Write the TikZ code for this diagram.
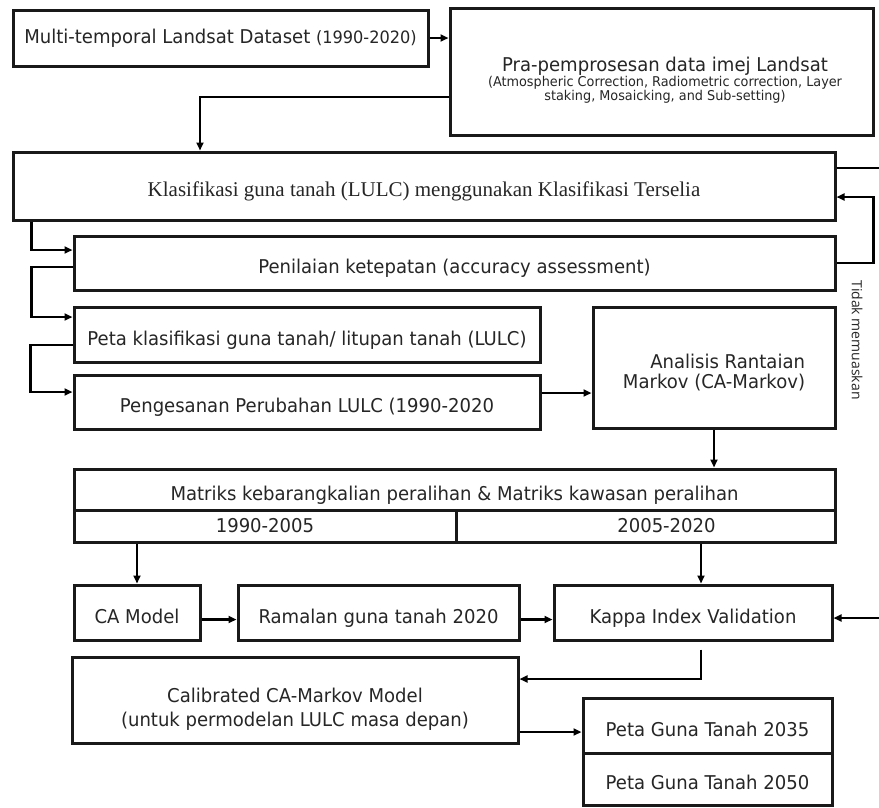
\documentclass[tikz,border=0pt]{standalone}
\usepackage{fontspec}
\setmainfont[FakeStretch=0.95]{DejaVu Sans}
\newfontfamily\klasfont{Liberation Serif}
\newfontfamily\notefont{Open Sans}
\usetikzlibrary{arrows.meta}
\newcommand{\fsz}[2]{\fontsize{#1}{#2}\selectfont}

\begin{document}
\begin{tikzpicture}[x=1pt, y=-1pt,
    box/.style={draw=black!90, line width=3pt, inner sep=0pt, text=black!85, font=\fsz{19}{22}},
    lowtext/.style={text height=25pt, text depth=4pt},
    arr/.style={line width=2.6pt, -{Triangle[length=8pt,width=7pt]}}]
  \useasboundingbox[fill=white] (0,0) rectangle (879,807);

  % top row
  \node[box, minimum width=415pt, minimum height=56pt] (land) at (220.5,38)
    {Multi-temporal Landsat Dataset {\fsz{17}{20}(1990-2020)}};
  \node[box, minimum width=423pt, minimum height=127pt] (pra) at (661.5,71.5) {};
  \node[align=center, text=black!85] (pratxt) at (665,80)
    {\fsz{19}{23}Pra-pemprosesan data imej Landsat\\
     \fsz{13.5}{15.5}(Atmospheric Correction, Radiometric correction, Layer\\
     \fsz{13.5}{15.5}staking, Mosaicking, and Sub-setting)};

  \node[box, lowtext, minimum width=822pt, minimum height=68pt, font=\klasfont\fsz{21}{24}] (klas) at (424,186)
    {Klasifikasi guna tanah (LULC) menggunakan Klasifikasi Terselia};

  % plain single line boxes
  \foreach \n/\cx/\cy/\w/\h/\t in {
      nilai/454.5/263/761/54/{Penilaian ketepatan (accuracy assessment)},
      peta/307/334.5/466/55/{Peta klasifikasi guna tanah/ litupan tanah (LULC)},
      uji/307/402/466/54/{Pengesanan Perubahan LULC (1990-2020},
      ca/137/612.5/126/55/{CA Model},
      ramal/378.5/612.5/281/55/{Ramalan guna tanah 2020},
      kappa/693/612.5/278/55/{Kappa Index Validation},
      p35/707.5/725.5/249/55/{Peta Guna Tanah 2035},
      p50/707.5/779/249/52/{Peta Guna Tanah 2050}}
    \node[box, lowtext, minimum width=\w pt, minimum height=\h pt] (\n) at (\cx,\cy) {\t};

  \node[box, minimum width=242pt, minimum height=121pt, align=right,
    font=\fsz{19}{20}, text height=44pt] (markov) at (714,367.5)
    {Analisis Rantaian\\Markov (CA-Markov)};

  % transition matrices
  \node[box, lowtext, minimum width=761pt, minimum height=41pt] (matT) at (454.5,489.5)
    {Matriks kebarangkalian peralihan \& Matriks kawasan peralihan};
  \node[box, minimum width=382pt, minimum height=32pt] (mat1) at (265,526) {1990-2005};
  \node[box, minimum width=379pt, minimum height=32pt,
    label={[xshift=21pt, text=black!85, font=\fsz{19}{22}]center:2005-2020}] (mat2) at (645.5,526) {};

  \node[box, minimum width=446pt, minimum height=86pt, align=center,
    font=\fsz{19}{24}, text height=56pt] (calib) at (295,700)
    {Calibrated CA-Markov Model\\(untuk permodelan LULC masa depan)};

  \node[font=\notefont\fsz{14}{16}, text=black!85, rotate=-90] (tidak) at (857,340) {Tidak memuaskan};

  % connectors
  \draw[arr] (land.east) -- (land.east -| pra.west);
  \draw[arr] ([yshift=-25.5pt]pra.west) -| ([xshift=-224pt]klas.north);
  \draw[arr] ([xshift=20pt]klas.south west) |- ([yshift=13pt]nilai.west);
  \draw[arr] ([yshift=-4pt]nilai.west) -- ++(-41,0) |- ([yshift=17.5pt]peta.west);
  \draw[arr] ([yshift=-10.5pt]peta.west) -- ++(-42,0) |- ([yshift=10pt]uji.west);
  \draw[arr] ([yshift=9pt]uji.east) -- ([yshift=9pt]uji.east -| markov.west);
  \draw[arr] (nilai.east) -- ++(37,0) |- ([yshift=-11pt]klas.east);
  \draw[arr] ([yshift=18pt]klas.east) -- ++(60,0) |- ([yshift=-5.5pt]kappa.east);
  \draw[arr] (markov.south) -- (markov.south |- matT.north);
  \draw[arr] (mat1.south -| ca.north) -- (ca.north);
  \draw[arr] ([xshift=8pt]kappa.north |- mat2.south) -- ([xshift=8pt]kappa.north);
  \draw[arr] ([yshift=-7pt]ca.east) -- ([yshift=-7pt]ramal.west);
  \draw[arr] ([yshift=-7pt]ramal.east) -- ([yshift=-7pt]kappa.west);
  \draw[arr] ([xshift=8pt,yshift=-8pt]kappa.south) |- ([yshift=21pt]calib.east);
  \draw[arr] ([yshift=-32pt]calib.east) -- ([yshift=-32pt]calib.east -| p35.west);
\end{tikzpicture}
\end{document}
